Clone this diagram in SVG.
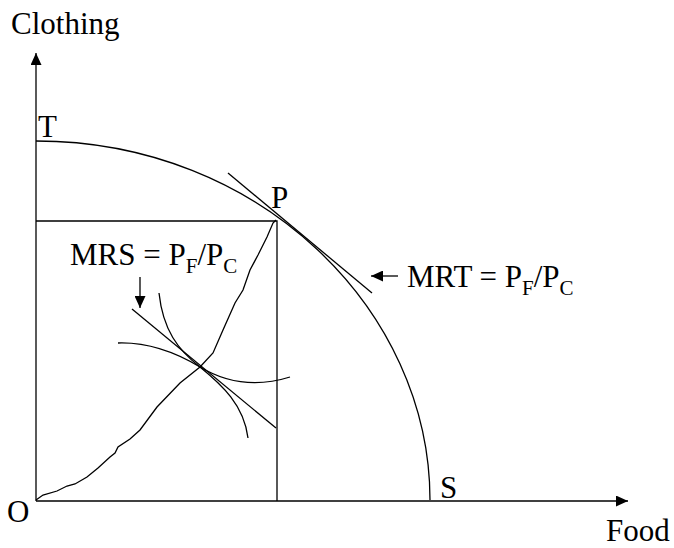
<svg xmlns="http://www.w3.org/2000/svg" width="674" height="548" viewBox="0 0 674 548">
<style>
.ln{fill:none;stroke:#000;stroke-width:1.3}
.tx{font-family:"Liberation Serif","Times New Roman",serif;font-size:31px;fill:#000}
.sb{font-size:21px}
</style>
<defs>
<marker id="ah" markerUnits="userSpaceOnUse" markerWidth="12" markerHeight="11" refX="12" refY="5.5" orient="auto">
<path d="M0,0 L12,5.5 L0,11 z" fill="#000"/>
</marker>
</defs>
<rect width="674" height="548" fill="#fff"/>
<g id="connectors">
<line id="y-axis" class="ln" x1="36" y1="501" x2="36" y2="53" marker-end="url(#ah)"/>
<line id="x-axis" class="ln" x1="36" y1="501" x2="628" y2="501" marker-end="url(#ah)"/>
<path id="ppf" class="ln" d="M36,141 C260,141 430,310 430,500"/>
<polyline id="guide" class="ln" points="36,221 277,221 277,501"/>
<line id="mrt-line" class="ln" x1="228" y1="173" x2="372" y2="293"/>
<line id="mrs-line" class="ln" x1="132" y1="309" x2="276" y2="428"/>
<path id="ic-a" class="ln" d="M159,293 C163,330 178,350 200,367 C222,385 244,405 248,438"/>
<path id="ic-b" class="ln" d="M118,343 C150,342 180,355 200,367 C225,382 255,388 290,377"/>
<polyline id="contract" class="ln" points="36,500 43,495 57,491 67,486 75,484 87,477 98,468 110,457 115,453 118,447 130,439 140,430 157,407 180,383 200,367 213,353 223,330 235,303 243,290 250,270 258,255 267,237 273,223 276,220"/>
<line id="mrs-arrow" class="ln" x1="140" y1="277" x2="140" y2="308" marker-end="url(#ah)"/>
<line id="mrt-arrow" class="ln" x1="398" y1="276" x2="371" y2="276" marker-end="url(#ah)"/>
</g>
<g id="labels">
<text class="tx" x="11" y="34">Clothing</text>
<text class="tx" x="38" y="137">T</text>
<text class="tx" x="271" y="208">P</text>
<text class="tx" x="440" y="498">S</text>
<text class="tx" x="7" y="522">O</text>
<text class="tx" x="606" y="541">Food</text>
<text class="tx" x="70" y="265">MRS = P<tspan class="sb" dy="8">F</tspan><tspan dy="-8">/P</tspan><tspan class="sb" dy="8">C</tspan></text>
<text class="tx" x="407" y="287">MRT = P<tspan class="sb" dy="8">F</tspan><tspan dy="-8">/P</tspan><tspan class="sb" dy="8">C</tspan></text>
</g>
</svg>
